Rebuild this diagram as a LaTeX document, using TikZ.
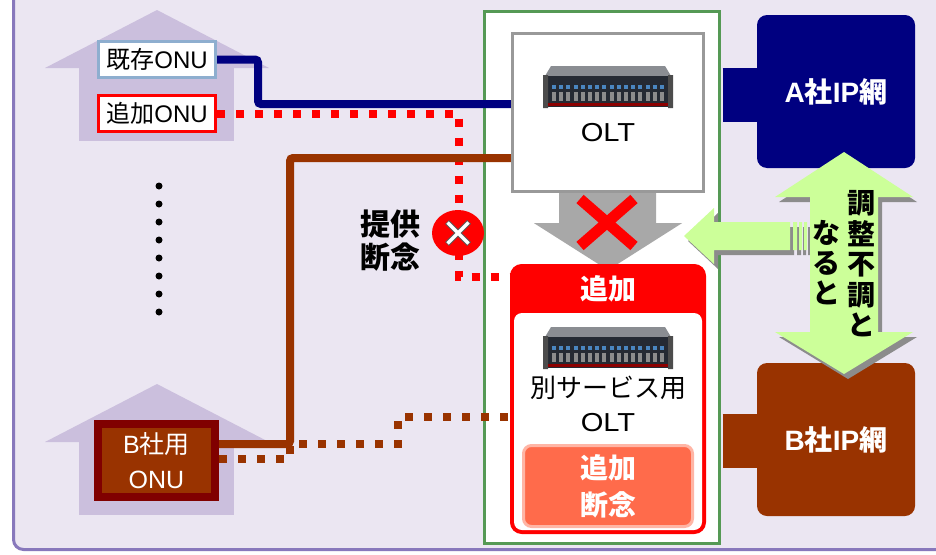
\documentclass[tikz,border=0pt]{standalone}
\usepackage{fontspec}
\setmainfont{Noto Sans CJK JP}
\newfontfamily\lat{Liberation Sans}
\newfontfamily\latw[FakeStretch=1.12]{Liberation Sans}
\usetikzlibrary{shapes.geometric}

\definecolor{lav}{HTML}{EBE6F2}
\definecolor{framec}{HTML}{8878BC}
\definecolor{housec}{HTML}{CBBFDD}
\definecolor{navyc}{HTML}{000080}
\definecolor{brownc}{HTML}{993300}
\definecolor{dredc}{HTML}{800000}
\definecolor{greenf}{HTML}{559955}
\definecolor{grayb}{HTML}{999999}
\definecolor{graya}{HTML}{A8A8A8}
\definecolor{lgreen}{HTML}{CCFF99}
\definecolor{coral}{HTML}{FF6B4B}
\definecolor{coralb}{HTML}{FFB5A5}
\definecolor{onublue}{HTML}{8EAECF}
\definecolor{shad}{HTML}{8C8C8C}
\definecolor{srvfront}{HTML}{252A33}
\definecolor{srvtop}{HTML}{8A8D92}
\definecolor{srvled}{HTML}{4A86C0}

\newcommand\fsz[2]{\fontsize{#1}{#2}\selectfont}

\tikzset{
  onubox/.style={fill=white, line width=3, minimum width=117, minimum height=36,
    inner sep=0, font=\fsz{24}{24}},
  netbox/.style={rounded corners=10, minimum width=158, minimum height=153,
    inner sep=0, text=white, font=\bfseries\fsz{28}{28}},
  navyline/.style={draw=navyc, line width=8, rounded corners=3},
  brownline/.style={draw=brownc, line width=8, rounded corners=3},
  reddot/.style={draw=red, line width=8, dash pattern=on 8 off 11},
  browndot/.style={draw=brownc, line width=8, dash pattern=on 8 off 11},
  plainlabel/.style={inner sep=0, align=center},
  house/.style={fill=housec},
  server/.pic={
    \fill[srvtop] (7,0) -- (121,0) -- (127,10) -- (1,10) -- cycle;
    \fill[srvfront] (1,10) rectangle (127,41);
    \fill[black!70] (-1,9) rectangle (4,42) (124,9) rectangle (129,42);
    \foreach \i in {0,...,15} {
      \fill[srvled] (8+7.2*\i,19) rectangle ++(4,4);
      \fill[black!45] (8+7.2*\i,26) rectangle ++(4,9);
    }
    \fill[red!55!black] (4,37) rectangle (124,40);
  }
}

\begin{document}
\begin{tikzpicture}[x=1pt,y=-1pt]
\useasboundingbox (0,0) rectangle (936,554);
\clip (0,0) rectangle (936,554);
\fill[white] (0,0) rectangle (936,554);

% background panel
\draw[framec, line width=3, fill=lav, rounded corners=10] (13.5,-30) rectangle (990,549.5);

% houses
\fill[house] (45,68) -- (157,10) -- (269,68) -- cycle;
\fill[house] (79,68) rectangle (234,141);
\fill[house] (45,442) -- (157,384) -- (269,442) -- cycle;
\fill[house] (79,442) rectangle (234,515);

% continuation dots
\foreach \k in {0,...,7} \fill (159,186+18*\k) circle (3.5);

% ONU nodes
\node[onubox, draw=onublue] (onu1) at (157,59.5) {既存{\lat ONU}};
\node[onubox, draw=red] (onu2) at (157,113.5) {追加{\lat ONU}};
\node[draw=dredc, line width=8, fill=brownc, minimum width=117, minimum height=73,
      inner sep=0, text=white, align=center, font=\fsz{25}{35}] (bonu) at (156.5,460.5) {{\lat B}社用\\{\lat ONU}};

% networks
\node[netbox, fill=navyc] (anet) at (836,91.5) {{\lat A}社{\lat IP}網};
\node[netbox, fill=brownc] (bnet) at (836,439.5) {{\lat B}社{\lat IP}網};

% green frame
\node[draw=greenf, line width=3, fill=white, minimum width=235, minimum height=532, inner sep=0] (frame) at (602,277) {};

% bars from frame to networks
\coordinate (abar) at (740,95);
\coordinate (bbar) at (740,440.5);
\draw[navyc, line width=54] ([xshift=1.5]frame.east |- abar) -- (anet.west |- abar);
\draw[brownc, line width=54] ([xshift=1.5]frame.east |- bbar) -- (bnet.west |- bbar);

% OLT box
\node[draw=grayb, line width=3.3, fill=white, minimum width=191, minimum height=158, inner sep=0] (olt) at (608,112.5) {};
\pic at (544,66) {server};
\node[plainlabel, font=\latw\fsz{26}{26}] (oltl) at (608,133) {OLT};

% gray block arrow OLT -> added OLT
\fill[graya, shift={(olt.south)}] (-49,0) -- (48,0) -- (48,30) -- (74,30) -- (0,77) -- (-74,30) -- (-49,30) -- cycle;
\draw[red, line width=11] (580,199) -- (634,246) (634,199) -- (580,246);

% added OLT box
\node[draw=red, fill=red, line width=3.5, rounded corners=10, minimum width=192.5, minimum height=266.5, inner sep=0] (addbox) at (608,399) {};
\fill[white, rounded corners=8] (514,313) rectangle (702,530);
\node[plainlabel, text=white, font=\bfseries\fsz{28}{28}] (addhead) at (608,289) {追加};
\pic at (544,327) {server};
\node[plainlabel, font=\fsz{26}{26}] (betsu) at (608,388) {別サービス用};
\node[plainlabel, font=\latw\fsz{26}{26}] (olt2) at (608,423) {OLT};
\node[fill=coral, draw=coralb, line width=3, rounded corners=8, minimum width=169, minimum height=81,
      inner sep=0, text=white, align=center, font=\bfseries\fsz{28}{37}] (stop) at (608,486) {追加\\断念};

% lines from ONUs
\coordinate (b1) at (258,104);
\draw[navyline] (onu1.east) -| (b1) -- (olt.west |- b1);

\coordinate (r1) at (459,277);
\draw[reddot] (onu2.east) -| (r1) -- (addbox.west |- r1);

\coordinate (d1) at (290,459);
\coordinate (d2) at (290,444);
\coordinate (d3) at (398,444);
\coordinate (d4) at (398,417);
\draw[browndot] (bonu.east |- d1) -- (d1) -- (d2) -- (d3) -- (d4) -- (addbox.west |- d4);

\coordinate (s1) at (290,444);
\coordinate (s2) at (290,158);
\draw[brownline] (bonu.east |- s1) -- (s1) -- (s2) -- (olt.west |- s2);

% cross mark and label
\node[ellipse, fill=red, minimum width=52, minimum height=46, inner sep=0] (cross) at (458,233) {};
\draw[black!65, line width=5.5] (447,222) -- (469,244) (469,222) -- (447,244);
\draw[white, line width=3.5] (447.5,222.5) -- (468.5,243.5) (468.5,222.5) -- (447.5,243.5);
\node[plainlabel, font=\bfseries\fsz{30}{33}] (teikyo) at (390,241) {提供\\断念};

% green arrows (shadows first)
\begin{scope}[shift={(4,5)}]
  \fill[shad] (844,152) -- (913,197) -- (878,197) -- (878,332) -- (913,332) -- (844,374)
    -- (775,332) -- (810,332) -- (810,197) -- (775,197) -- cycle;
  \fill[shad] (684,236) -- (714,208) -- (714,222) -- (790,222) -- (790,250) -- (714,250) -- (714,264) -- cycle;
  \fill[shad] (793,222) rectangle (797,250) (799,222) rectangle (802,250) (804,222) rectangle (807,250);
\end{scope}
\fill[lgreen] (844,152) -- (913,197) -- (878,197) -- (878,332) -- (913,332) -- (844,374)
  -- (775,332) -- (810,332) -- (810,197) -- (775,197) -- cycle;
\fill[lgreen] (684,236) -- (714,208) -- (714,222) -- (790,222) -- (790,250) -- (714,250) -- (714,264) -- cycle;
\fill[lgreen] (793,222) rectangle (797,250) (799,222) rectangle (802,250) (804,222) rectangle (807,250);

\node[plainlabel, font=\bfseries\fsz{28}{30.5}] (col1) at (861,264) {調\\整\\不\\調\\と};
\node[plainlabel, font=\bfseries\fsz{28}{30}] (col2) at (826,263) {な\\る\\と};
\end{tikzpicture}
\end{document}
